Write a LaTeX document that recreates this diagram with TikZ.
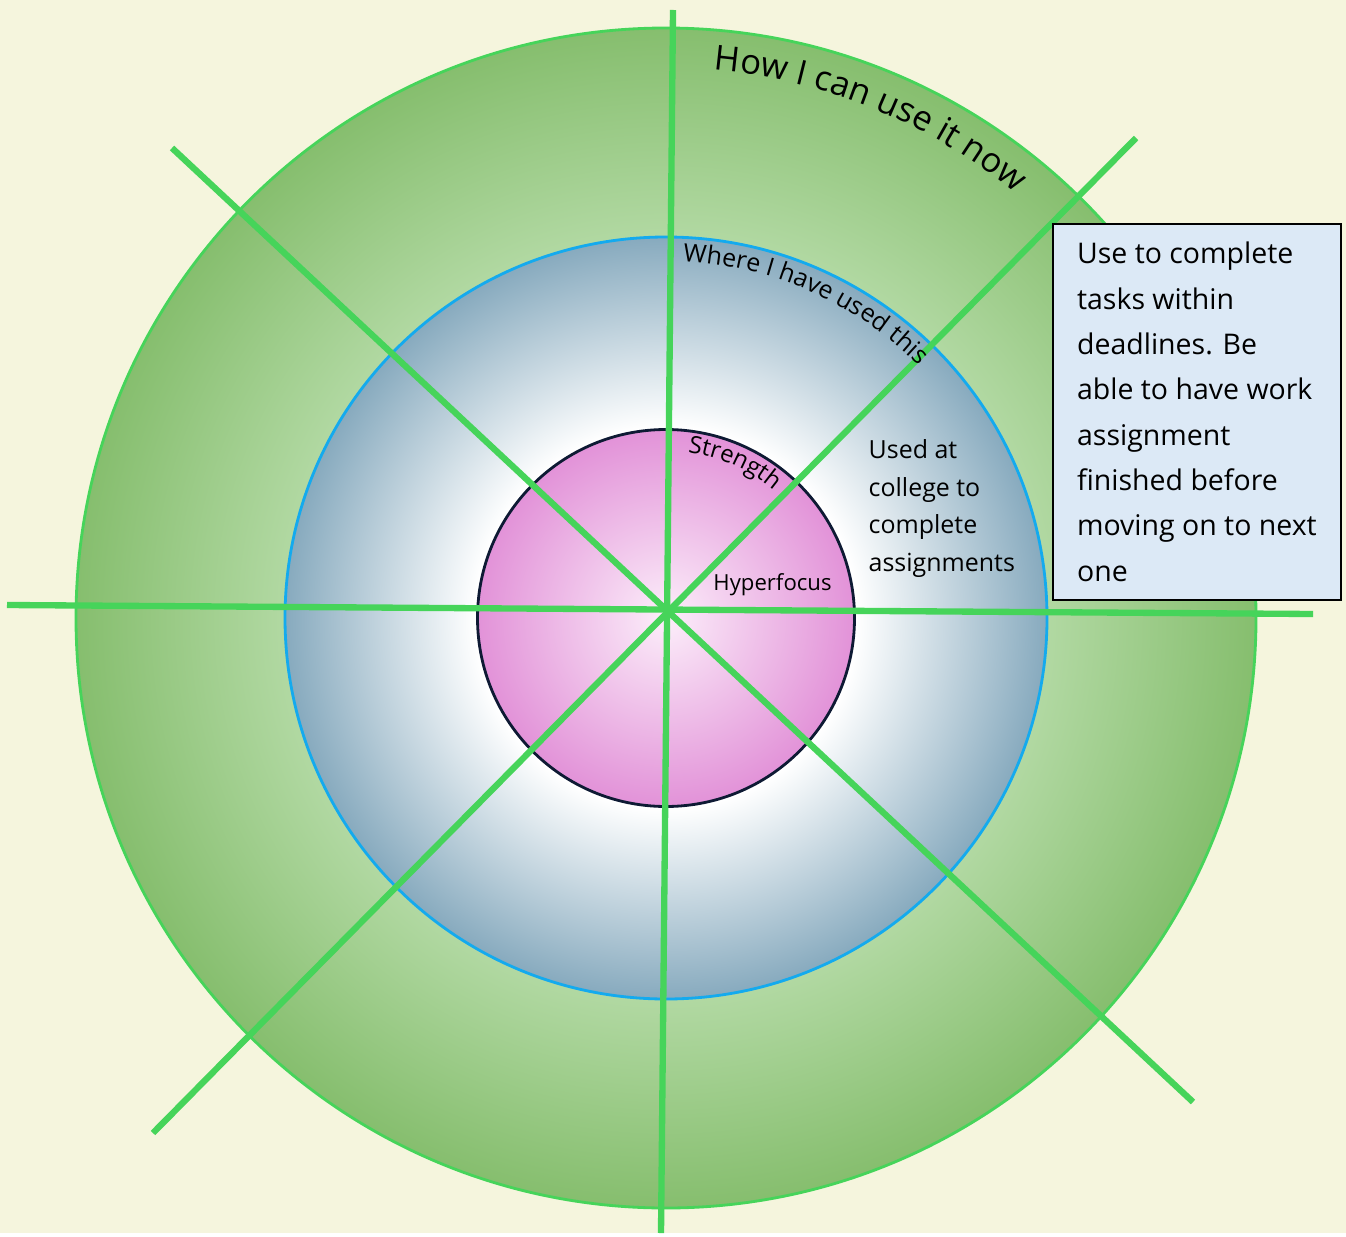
\documentclass[tikz,border=0pt]{standalone}
\usepackage{fontspec}
\setmainfont{Open Sans}
\usepackage{xcolor}
\usepackage{tikz}
\usetikzlibrary{shapes,arrows,positioning,decorations.text}

\definecolor{bgcream}{RGB}{245,245,221}
\definecolor{spokegreen}{RGB}{70,212,90}
\definecolor{greenin}{RGB}{202,232,190}
\definecolor{greenmid}{RGB}{178,217,163}
\definecolor{greenout}{RGB}{134,190,110}
\definecolor{bluegrey}{RGB}{135,170,190}
\definecolor{pinkin}{RGB}{252,238,250}
\definecolor{pinkout}{RGB}{226,146,216}
\definecolor{boxblue}{RGB}{220,233,246}
\definecolor{edgeblue}{RGB}{20,170,238}
\definecolor{edgenavy}{RGB}{14,26,52}

\pgfdeclareradialshading{greenring}{\pgfpointorigin}{color(0bp)=(greenin); color(16bp)=(greenmid); color(25bp)=(greenout); color(50bp)=(greenout)}
\pgfdeclareradialshading{bluering}{\pgfpointorigin}{color(0bp)=(white); color(12.5bp)=(white); color(25bp)=(bluegrey); color(50bp)=(bluegrey)}
\pgfdeclareradialshading{pinkcore}{\pgfpointorigin}{color(0bp)=(pinkin); color(25bp)=(pinkout); color(50bp)=(pinkout)}

\begin{document}
\begin{tikzpicture}[
                ring/.style={circle, inner sep=0pt, line width=0.8pt, shade},
                spoke/.style={line width=1.8pt, spokegreen},
                arclabel/.style={decorate, decoration={text along path, text align=left}},
                notebox/.style={rectangle, draw=black, line width=0.5pt, fill=boxblue, minimum width=2.88cm, minimum height=3.76cm, align=left, font=\fontsize{8.1}{12.9}\selectfont},
                smalltext/.style={inner sep=0pt, align=left}
            ]
                % Background
                \fill[bgcream] (0,0) rectangle (13.46,12.33);

                % Rings, outermost first
                \node[ring, shading=greenring, draw=spokegreen, minimum size=11.80cm] (outer) at (6.66,6.15) {};
                \node[ring, shading=bluering, draw=edgeblue, minimum size=7.62cm] (middle) at (outer.center) {};
                \node[ring, shading=pinkcore, draw=edgenavy, minimum size=3.77cm] (core) at (outer.center) {};

                % Spoke ends
                \coordinate (n) at (6.73,12.23);
                \coordinate (s) at (6.61,0);
                \coordinate (w) at (0.07,6.28);
                \coordinate (e) at (13.13,6.19);
                \coordinate (nw) at (1.72,10.85);
                \coordinate (se) at (11.93,1.31);
                \coordinate (ne) at (11.36,10.95);
                \coordinate (sw) at (1.53,1.00);

                % Spokes through the centre
                \draw[spoke] (n) -- (s);
                \draw[spoke] (w) -- (e);
                \draw[spoke] (nw) -- (se);
                \draw[spoke] (ne) -- (sw);

                % Ring titles along the arcs
                \path[arclabel, decoration={text={|\fontsize{9.8}{12}\selectfont|How I can use it now}}]
                    (outer.center) ++(85:5.50) arc[start angle=85, end angle=20, radius=5.50];
                \path[arclabel, decoration={text={|\fontsize{7.1}{9}\selectfont|Where I have used this}}]
                    (outer.center) ++(87.3:3.57) arc[start angle=87.3, end angle=20, radius=3.57];
                \path[arclabel, decoration={text={|\fontsize{6.8}{9}\selectfont|Strength}}]
                    (outer.center) ++(82.5:1.67) arc[start angle=82.5, end angle=20, radius=1.67];

                % Entries
                \node[smalltext, anchor=base, font=\fontsize{6.3}{8}\selectfont] (focus) at (7.725,6.43) {Hyperfocus};
                \node[smalltext, anchor=west, font=\fontsize{7.1}{10.7}\selectfont] (college) at (8.68,7.245) {Used at\\college to\\complete\\assignments};

                % Note on the right
                \node[notebox, anchor=north west] (plan) at (10.52,10.10) {Use to complete\\tasks within\\deadlines. Be\\able to have work\\assignment\\finished before\\moving on to next\\one};
            \end{tikzpicture}
\end{document}
